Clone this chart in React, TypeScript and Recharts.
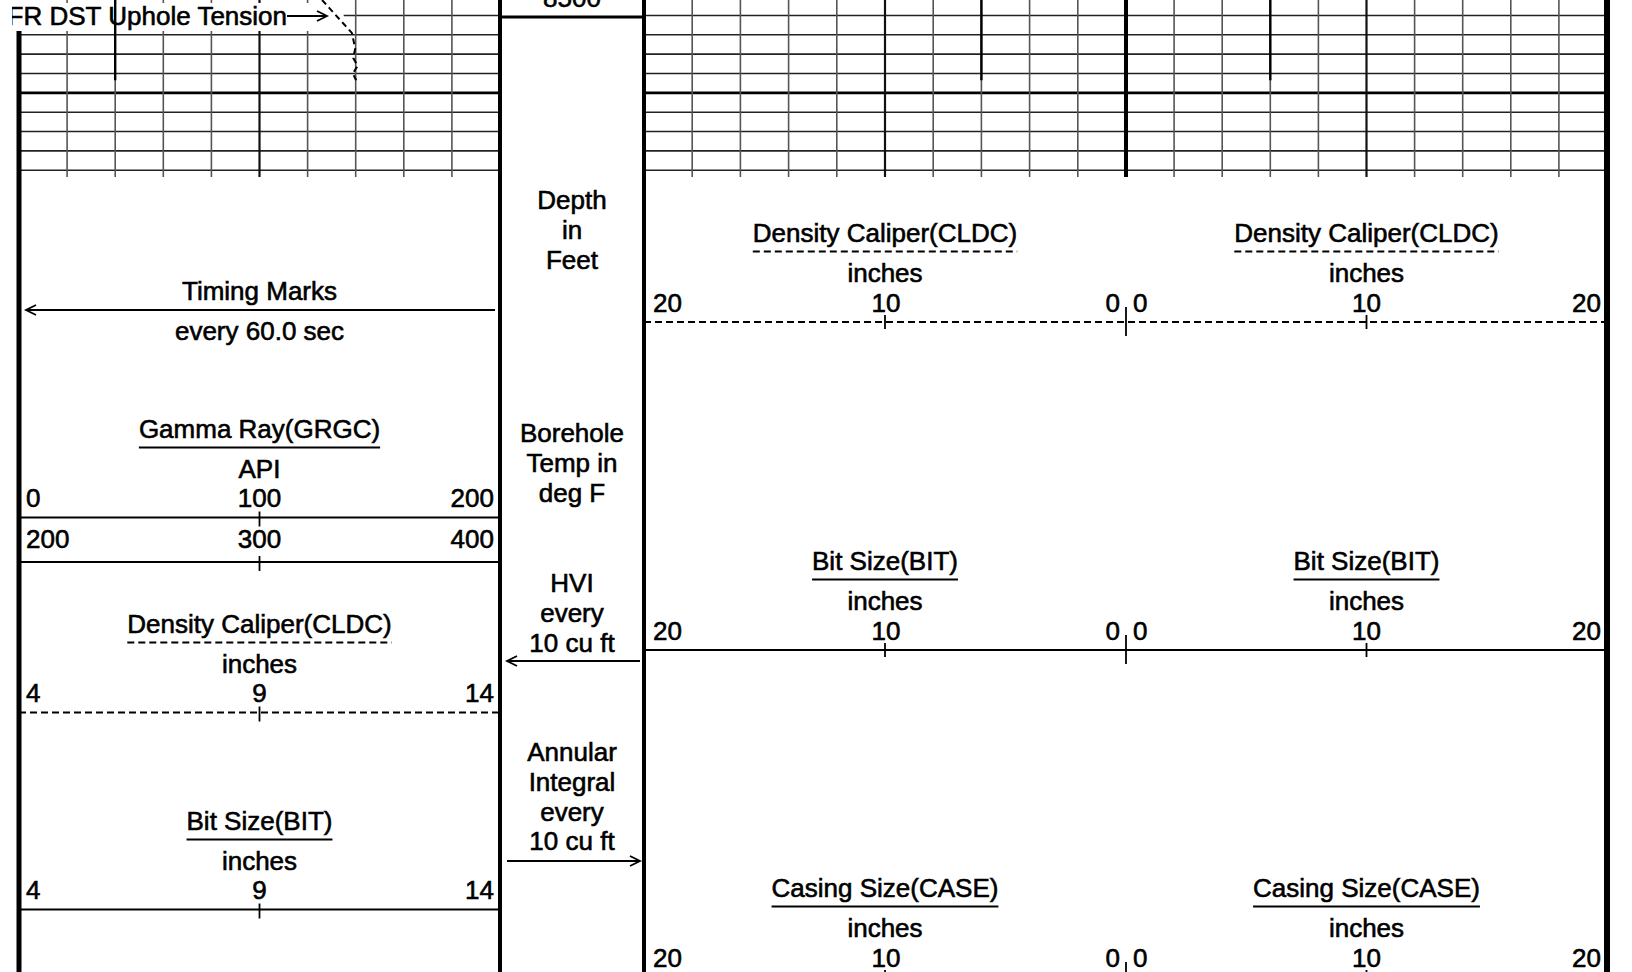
import React from 'react';
import { LineChart, Line, XAxis, YAxis, ReferenceLine, ReferenceArea } from 'recharts';

// depth grid (feet) shown above the trailer header
const depthDomain = [8500.4, 8518.7];
const depthLines = [8502, 8504, 8506, 8508, 8510, 8512, 8514, 8516, 8518];
const depthMajor = [8510];

// track scales
const gammaGrid = [20, 40, 60, 80, 100, 120, 140, 160, 180];
const gammaMajor = [100];
const caliperGrid = [2, 4, 6, 8, 10, 12, 14, 16, 18];
const caliperMajor = [10];

// curves
const bitSize = [
  { depth: 8500.4, bit: 6 },
  { depth: 8508.7, bit: 6 },
];
const upholeTension = [
  { depth: 8500.4, ten: 6300 },
  { depth: 8503.8, ten: 6920 },
  { depth: 8505.4, ten: 6990 },
  { depth: 8506.4, ten: 6950 },
  { depth: 8507.2, ten: 7040 },
  { depth: 8508.0, ten: 6940 },
  { depth: 8508.7, ten: 7010 },
];

// header text
const leftTitles = ['Gamma Ray(GRGC)', 'Density Caliper(CLDC)', 'Bit Size(BIT)'];
const leftUnits = ['API', 'inches', 'inches'];
const leftDashed = [false, true, false];
const leftScales = [['0', '100', '200'], ['4', '9', '14'], ['4', '9', '14']];
const gammaWrap = ['200', '300', '400'];
const rightTitles = ['Density Caliper(CLDC)', 'Bit Size(BIT)', 'Casing Size(CASE)'];
const rightUnits = ['inches', 'inches', 'inches'];
const rightDashed = [true, false, false];
const rightScaleA = ['20', '10', '0'];
const rightScaleB = ['0', '10', '20'];
const depthNotes = [
  ['Depth', 'in', 'Feet'],
  ['Borehole', 'Temp in', 'deg F'],
  ['HVI', 'every', '10 cu ft'],
  ['Annular', 'Integral', 'every', '10 cu ft'],
];

// layout
const W = 1632;
const H = 972;
const GRID_H = 177;
const X_L0 = 19;
const X_L1 = 500;
const X_D1 = 644;
const X_M = 1126;
const X_R1 = 1607;
const LEFT_TITLE_Y = [429, 624, 821];
const RIGHT_TITLE_Y = [233, 561, 888];
const NOTE_Y = [200, 433, 583, 752];
const FONT = '"Liberation Sans", Arial, Helvetica, sans-serif';
const FS = 26;
const DASH = '7 4';

let ctx: CanvasRenderingContext2D | null = null;
function textWidth(s: string) {
  if (!ctx) ctx = document.createElement('canvas').getContext('2d');
  if (!ctx) return s.length * FS * 0.5;
  ctx.font = `${FS}px "Liberation Sans"`;
  return ctx.measureText(s).width;
}

function Txt({ x, cy, anchor = 'middle', clip, children }: any) {
  return (
    <text
      x={x}
      y={cy + 9.3}
      textAnchor={anchor}
      fontFamily={FONT}
      fontSize={FS}
      fill="#000"
      stroke="#000"
      strokeWidth={0.6}
      clipPath={clip}
    >
      {children}
    </text>
  );
}

function CurveTitle({ cx, cy, title, unit, dashed }: any) {
  const w = textWidth(title);
  return (
    <g>
      <Txt x={cx} cy={cy}>{title}</Txt>
      <line
        x1={cx - w / 2}
        x2={cx + w / 2}
        y1={cy + 18.5}
        y2={cy + 18.5}
        stroke="#000"
        strokeWidth={2}
        strokeDasharray={dashed ? DASH : undefined}
      />
      <Txt x={cx} cy={cy + 39.5}>{unit}</Txt>
    </g>
  );
}

function ScaleRow({ x0, x1, cy, labels }: any) {
  return (
    <g>
      <Txt x={x0 + 7} cy={cy} anchor="start">{labels[0]}</Txt>
      <Txt x={(x0 + x1) / 2} cy={cy}>{labels[1]}</Txt>
      <Txt x={x1 - 6} cy={cy} anchor="end">{labels[2]}</Txt>
    </g>
  );
}

function ScaleLine({ x0, x1, y, dashed, ticks }: any) {
  return (
    <g>
      <line x1={x0} x2={x1} y1={y} y2={y} stroke="#000" strokeWidth={2} strokeDasharray={dashed ? DASH : undefined} />
      {ticks.map((t: any, i: number) => (
        <line key={i} x1={t.x} x2={t.x} y1={y - t.up} y2={y + t.down} stroke="#000" strokeWidth={1.8} />
      ))}
    </g>
  );
}

function Arrow({ x1, x2, y }: any) {
  // arrow head at x2
  const d = x2 > x1 ? -10 : 10;
  return (
    <g stroke="#000" strokeWidth={1.8} fill="none">
      <line x1={x1} x2={x2} y1={y} y2={y} />
      <polyline points={`${x2 + d},${y - 5} ${x2},${y} ${x2 + d},${y + 5}`} />
    </g>
  );
}

function GridTrack({ left, width, domain, reversed, grid, major, children }: any) {
  return (
    <div style={{ position: 'absolute', left, top: 0 }}>
      <LineChart width={width} height={GRID_H} layout="vertical" margin={{ top: 0, right: 0, bottom: 0, left: 0 }}>
        <XAxis type="number" domain={domain} reversed={reversed} hide allowDataOverflow />
        <XAxis xAxisId="bit" type="number" domain={[4, 14]} hide allowDataOverflow />
        <XAxis xAxisId="ten" type="number" domain={[0, 10000]} hide allowDataOverflow />
        <YAxis type="number" dataKey="depth" domain={depthDomain} hide allowDataOverflow />
        {depthLines.map((d) => (
          <ReferenceLine
            key={'h' + d}
            y={d}
            stroke={depthMajor.includes(d) ? '#000' : '#222'}
            strokeWidth={depthMajor.includes(d) ? 2.6 : 1.6}
            zIndex={-60}
          />
        ))}
        {grid.map((v: number) => (
          <ReferenceLine
            key={'v' + v}
            x={v}
            stroke={major.includes(v) ? '#111' : '#555'}
            strokeWidth={major.includes(v) ? 2.2 : 1.6}
            zIndex={-60}
          />
        ))}
        {children}
      </LineChart>
    </div>
  );
}

export default function App() {
  const cL = (X_L0 + X_L1) / 2;
  const cD = (X_L1 + X_D1) / 2;
  const cA = (X_D1 + X_M) / 2;
  const cB = (X_M + X_R1) / 2;

  return (
    <div style={{ position: 'absolute', left: 0, top: 0, width: W, height: H, background: '#fff', overflow: 'hidden' }}>
      <GridTrack left={X_L0} width={X_L1 - X_L0} domain={[0, 200]} grid={gammaGrid} major={gammaMajor}>
        <ReferenceArea x1={0} x2={135} y1={8500.7} y2={8503.6} fill="#fff" fillOpacity={1} stroke="none" zIndex={-10} />
        <Line data={bitSize} dataKey="bit" xAxisId="bit" stroke="#000" strokeWidth={2.4} dot={false} isAnimationActive={false} />
        <Line
          data={upholeTension}
          dataKey="ten"
          xAxisId="ten"
          stroke="#000"
          strokeWidth={2}
          strokeDasharray="6 4"
          dot={false}
          isAnimationActive={false}
        />
      </GridTrack>
      <GridTrack left={X_D1} width={X_M - X_D1} domain={[0, 20]} reversed grid={caliperGrid} major={caliperMajor}>
        <Line data={bitSize} dataKey="bit" stroke="#000" strokeWidth={2.4} dot={false} isAnimationActive={false} />
      </GridTrack>
      <GridTrack left={X_M} width={X_R1 - X_M} domain={[0, 20]} grid={caliperGrid} major={caliperMajor}>
        <Line data={bitSize} dataKey="bit" stroke="#000" strokeWidth={2.4} dot={false} isAnimationActive={false} />
      </GridTrack>

      <svg width={W} height={H} style={{ position: 'absolute', left: 0, top: 0, pointerEvents: 'none' }}>
        <defs>
          <clipPath id="leftCut">
            <rect x={12} y={0} width={W} height={H} />
          </clipPath>
        </defs>
        {/* track borders */}
        <line x1={X_L0} x2={X_L0} y1={31} y2={H} stroke="#000" strokeWidth={5} />
        <line x1={X_L1} x2={X_L1} y1={0} y2={H} stroke="#000" strokeWidth={4} />
        <line x1={X_D1} x2={X_D1} y1={0} y2={H} stroke="#000" strokeWidth={4} />
        <line x1={X_M} x2={X_M} y1={0} y2={GRID_H} stroke="#000" strokeWidth={4} />
        <line x1={X_R1} x2={X_R1} y1={0} y2={H} stroke="#000" strokeWidth={6} />

        {/* depth box */}
        <line x1={X_L1} x2={X_D1} y1={17} y2={17} stroke="#000" strokeWidth={3} />
        <Txt x={cD} cy={-2.3}>8500</Txt>

        {/* tension label */}
        <Txt x={287} cy={16} anchor="end" clip="url(#leftCut)">FR DST Uphole Tension</Txt>
        <Arrow x1={287} x2={327} y={16} />

        {/* left track header */}
        <Txt x={cL} cy={291}>Timing Marks</Txt>
        <Arrow x1={495} x2={26} y={310} />
        <Txt x={cL} cy={331}>every 60.0 sec</Txt>
        {leftTitles.map((t, i) => {
          const ty = LEFT_TITLE_Y[i];
          return (
            <g key={t}>
              <CurveTitle cx={cL} cy={ty} title={t} unit={leftUnits[i]} dashed={leftDashed[i]} />
              <ScaleRow x0={X_L0} x1={X_L1} cy={ty + 68.5} labels={leftScales[i]} />
              <ScaleLine
                x0={X_L0}
                x1={X_L1}
                y={ty + 88.5}
                dashed={leftDashed[i]}
                ticks={[{ x: cL, up: 6, down: 9 }]}
              />
            </g>
          );
        })}
        <ScaleRow x0={X_L0} x1={X_L1} cy={539} labels={gammaWrap} />
        <ScaleLine x0={X_L0} x1={X_L1} y={562} ticks={[{ x: cL, up: 6, down: 9 }]} />

        {/* depth track notes */}
        {depthNotes.map((lines, i) =>
          lines.map((s, j) => (
            <Txt key={i + '-' + j} x={cD} cy={NOTE_Y[i] + j * 29.7}>{s}</Txt>
          ))
        )}
        <Arrow x1={640} x2={507} y={661} />
        <Arrow x1={507} x2={640} y={861} />

        {/* right tracks header */}
        {rightTitles.map((t, i) => {
          const ty = RIGHT_TITLE_Y[i];
          return (
            <g key={t}>
              <CurveTitle cx={cA} cy={ty} title={t} unit={rightUnits[i]} dashed={rightDashed[i]} />
              <CurveTitle cx={cB} cy={ty} title={t} unit={rightUnits[i]} dashed={rightDashed[i]} />
              <ScaleRow x0={X_D1 + 2} x1={X_M} cy={ty + 69.5} labels={rightScaleA} />
              <ScaleRow x0={X_M} x1={X_R1} cy={ty + 69.5} labels={rightScaleB} />
              <ScaleLine
                x0={X_D1}
                x1={X_R1}
                y={ty + 89}
                dashed={rightDashed[i]}
                ticks={[
                  { x: cA, up: 7, down: 7 },
                  { x: X_M, up: 15, down: 14 },
                  { x: cB, up: 7, down: 7 },
                ]}
              />
            </g>
          );
        })}
      </svg>
    </div>
  );
}
